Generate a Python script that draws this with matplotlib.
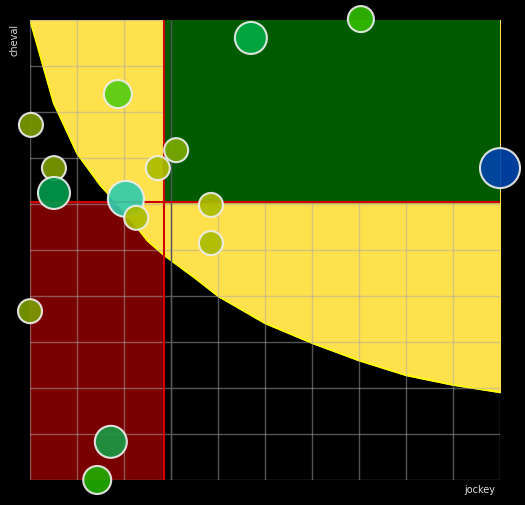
import matplotlib
matplotlib.use('Agg')
import matplotlib.pyplot as plt
from matplotlib.patches import Rectangle

# boundary curve
curve_x = [0, 0.5, 1, 1.5, 2, 2.5, 2.85, 3.5, 4, 5, 6, 7, 8, 9, 10]
curve_y = [10, 8.2, 7.1, 6.4, 5.85, 5.2, 4.89, 4.4, 4.0, 3.41, 2.98, 2.6, 2.28, 2.07, 1.91]

x_split = 2.85
y_split = 6.04

# bubbles
bx = [4.70, 7.04, 1.87, 0.02, 0.51, 0.51, 3.11, 2.72, 2.04, 2.26, 3.85, 3.85, 10.0, 0.0, 1.72, 1.43]
by = [9.61, 10.02, 8.39, 7.72, 6.78, 6.24, 7.17, 6.78, 6.11, 5.70, 5.98, 5.15, 6.78, 3.67, 0.83, 0.0]
br = [16, 13, 14, 12, 12, 16, 12, 12, 18, 12, 12, 12, 20, 12, 16, 14]
bc = ['#00aa44', '#33bb00', '#55cc11', '#7a9a00', '#7a9a00', '#00994c', '#7aaa00', '#aabb00',
      '#33ccaa', '#aabb00', '#aabb00', '#aabb00', '#0044aa', '#7a9a00', '#1a9944', '#22aa00']

fig = plt.figure(figsize=(5.25, 5.05), dpi=100, facecolor='black')
ax = fig.add_axes([30 / 525, 25 / 505, 470 / 525, 460 / 505])
ax.set_facecolor('black')
ax.set_xlim(0, 10)
ax.set_ylim(0, 10)

ax.add_patch(Rectangle((0, 0), x_split, y_split, color='#7a0000', zorder=1))
ax.fill_between(curve_x, curve_y, 10, color='#ffe14d', zorder=2)
ax.plot(curve_x, curve_y, color='#ffff00', lw=1.2, zorder=2)
ax.add_patch(Rectangle((x_split, y_split), 10 - x_split, 10 - y_split, color='#005a00', zorder=3))

ax.set_xticks(range(11))
ax.set_yticks(range(11))
ax.grid(True, color='#aaaaaa', alpha=0.5, lw=1)
ax.set_axisbelow(False)
ax.tick_params(length=0, labelbottom=False, labelleft=False)
for s in ax.spines.values():
    s.set_visible(False)

ax.axvline(3.0, color='#555555', lw=1, zorder=4)
ax.axvline(x_split, color='#cc0000', lw=1.5, zorder=5)
ax.axhline(y_split, color='#cc0000', lw=1.5, zorder=5)

sizes = [(2 * r * 0.72) ** 2 for r in br]
ax.scatter(bx, by, s=sizes, c=bc, edgecolors='#eeeeee', linewidths=1.5, alpha=0.92,
           zorder=6, clip_on=False)

fig.text(15 / 525, 1 - 40 / 505, 'cheval', color='#dddddd', fontsize=7, rotation=90,
         ha='center', va='center')
fig.text(480 / 525, 1 - 490 / 505, 'jockey', color='#dddddd', fontsize=7,
         ha='center', va='center')

fig.savefig('out.png', dpi=100, facecolor='black')
